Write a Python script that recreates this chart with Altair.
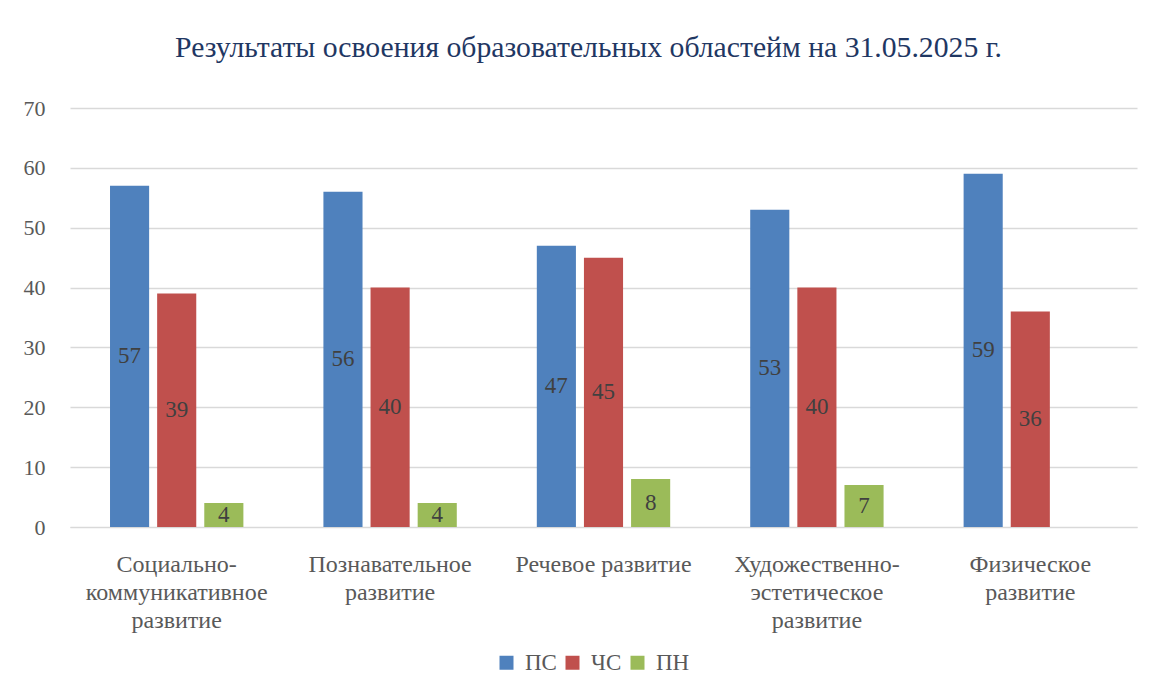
import altair as alt
import pandas as pd

categories = [
    "Социально-\nкоммуникативное\nразвитие",
    "Познавательное\nразвитие",
    "Речевое развитие",
    "Художественно-\nэстетическое\nразвитие",
    "Физическое\nразвитие",
]
series = ["ПС", "ЧС", "ПН"]
ps = [57, 56, 47, 53, 59]
chs = [39, 40, 45, 40, 36]
pn = [4, 4, 8, 7, None]
colors = ["#4F81BD", "#C0504D", "#9BBB59"]

rows = []
for name, vals in zip(series, [ps, chs, pn]):
    for c, v in zip(categories, vals):
        if v is not None:
            rows.append({"cat": c, "series": name, "value": v})
df = pd.DataFrame(rows)

FONT = "Liberation Serif"

base = alt.Chart(df).encode(
    x=alt.X(
        "cat:N",
        sort=categories,
        title=None,
        scale=alt.Scale(paddingInner=0.375, paddingOuter=0.1875),
        axis=alt.Axis(
            labelAngle=0,
            labelExpr="split(datum.label, '\\n')",
            labelFontSize=24,
            labelFont=FONT,
            labelColor="#595959",
            labelLineHeight=28,
            labelBaseline="top",
            labelPadding=25,
            ticks=False,
            domain=True,
            domainColor="#D9D9D9",
            grid=False,
            labelLimit=400,
        ),
    ),
    xOffset=alt.XOffset(
        "series:N",
        sort=series,
        scale=alt.Scale(paddingInner=0.17, paddingOuter=0),
    ),
)

bars = base.mark_bar().encode(
    y=alt.Y(
        "value:Q",
        title=None,
        scale=alt.Scale(domain=[0, 70]),
        axis=alt.Axis(
            values=[0, 10, 20, 30, 40, 50, 60, 70],
            labelFontSize=22,
            labelFont=FONT,
            labelColor="#595959",
            labelPadding=25,
            ticks=False,
            domain=False,
            gridColor="#D9D9D9",
            gridWidth=1.3,
        ),
    ),
    color=alt.Color(
        "series:N",
        sort=series,
        scale=alt.Scale(domain=series, range=colors),
        legend=alt.Legend(
            title=None,
            orient="none",
            legendX=425,
            legendY=543,
            direction="horizontal",
            symbolType="square",
            symbolSize=196,
            symbolStrokeWidth=0,
            symbolOpacity=1,
            labelFontSize=23,
            labelFont=FONT,
            labelColor="#595959",
            labelOffset=7,
            columnPadding=4,
            padding=0,
        ),
    ),
)

labels = base.transform_calculate(mid="datum.value / 2").mark_text(
    fontSize=23, font=FONT, color="#404040", baseline="middle", align="center"
).encode(
    y=alt.Y("mid:Q"),
    text=alt.Text("value:Q"),
)

chart = (
    alt.layer(bars, labels)
    .properties(
        width=1067,
        height=419,
        padding={"left": 62, "top": 100, "right": 6, "bottom": 150},
        autosize=alt.AutoSizeParams(type="none"),
        background="white",
        title=alt.TitleParams(
            "Результаты освоения образовательных областейм на 31.05.2025 г.",
            fontSize=29.7,
            font=FONT,
            fontWeight="normal",
            color="#1F3763",
            anchor="middle",
            offset=33,
            dx=-15,
        ),
    )
    .configure_view(strokeWidth=0)
)

chart.save("out.html", embed_options={"renderer": "svg", "actions": False})
